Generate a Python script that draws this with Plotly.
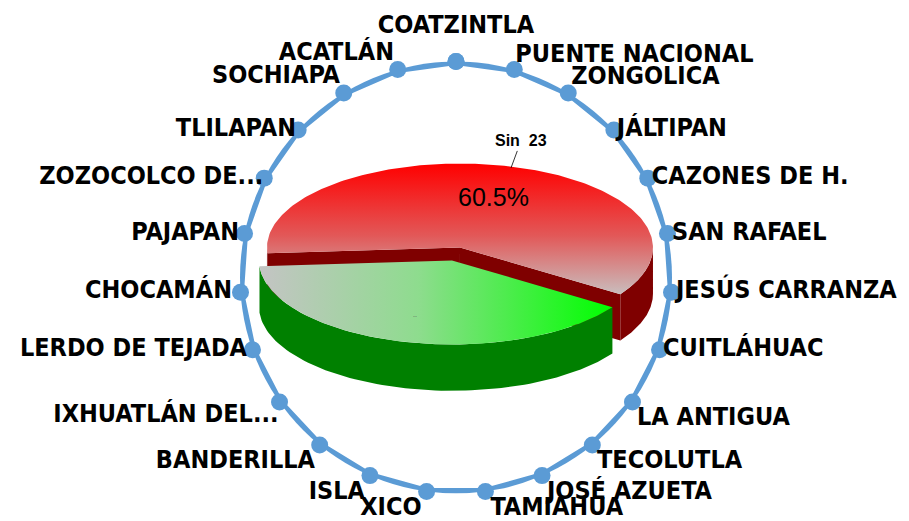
import numpy as np
import plotly.graph_objects as go

# ---------------- data ----------------
municipios = ["COATZINTLA", "PUENTE NACIONAL", "ZONGOLICA", "JÁLTIPAN", "CAZONES DE H.",
              "SAN RAFAEL", "JESÚS CARRANZA", "CUITLÁHUAC", "LA ANTIGUA", "TECOLUTLA",
              "JOSÉ AZUETA", "TAMIAHUA", "XICO", "ISLA", "BANDERILLA", "IXHUATLÁN DEL...",
              "LERDO DE TEJADA", "CHOCAMÁN", "PAJAPAN", "ZOZOCOLCO DE...", "TLILAPAN",
              "SOCHIAPA", "ACATLÁN"]
valores = [1, 1, 1, 1, 1, 1, 1, 1, 1, 1, 1, 1, 1, 1, 1, 1, 1, 1, 1, 1, 1, 1, 1]

pie_labels = ["Sin 23", ""]
pie_values = [60.5, 39.5]

# ---------------- style ----------------
BLUE = "#5B9BD5"
FS = 25
LABEL_FONT = dict(family="DejaVu Sans Condensed, Liberation Sans Narrow, Arial Narrow, DejaVu Sans, sans-serif",
                  size=FS, color="black", weight="bold")
# label placement around the radar (one per category)
label_pos = ["top center", "top right", "top right", "middle right", "middle right",
             "middle right", "middle right", "middle right", "bottom right", "bottom right",
             "bottom right", "bottom right", "bottom left", "bottom left", "bottom left",
             "bottom left", "middle left", "middle left", "middle left", "middle left",
             "middle left", "top left", "top left"]
label_gap = [22, 1, 3, 3, 4, 4.5, 4.5, 3.5, 4.5, 4.7, 4.9, 5, 5, 4.9, 4.7,
             0, 5.5, 8.5, 5.5, 0, 2.1, 3.8, 3.7]

W, H = 909, 521
PX = 193.0            # pixels per pie unit
PIE_CX, PIE_CY = 456, 254
TILT = 0.435
DEPTH = 0.24
EXPLODE = 0.08
START = 266.0
top_scales = [
    dict(type="vertical", colorscale=[[0, "#C9BDBD"], [0.45, "#E25858"], [1, "#FF0000"]]),
    dict(type="horizontal", colorscale=[[0, "#C4C4C4"], [0.45, "#8EDC8E"], [1, "#00FF00"]]),
]
wall_colors = ["#7F0000", "#008000"]

fig = go.Figure()

# ---------------- radar ----------------
fig.add_trace(go.Scatterpolar(
    r=valores + valores[:1], theta=municipios + municipios[:1], mode="lines+markers",
    line=dict(color=BLUE, width=7), marker=dict(color=BLUE, size=17),
    hoverinfo="skip", subplot="polar"))
# labels: invisible markers whose size sets the label offset
fig.add_trace(go.Scatterpolar(
    r=valores, theta=municipios, mode="markers+text", text=municipios,
    textposition=label_pos, textfont=LABEL_FONT,
    marker=dict(color=BLUE, opacity=0, size=[max((g - 1) / 0.625, 0.01) for g in label_gap]),
    subplot="polar", cliponaxis=False, hoverinfo="skip"))

# ---------------- 3D pie ----------------
def ell(cx, cy, t, dz=0.0):
    t = np.radians(t)
    return cx + np.sin(t), cy + TILT * np.cos(t) - dz

tot = sum(pie_values)
spans = []
a0 = START
for v in pie_values:
    a1 = a0 + v / tot * 360.0
    spans.append((a0, a1))
    a0 = a1

for k, (a0, a1) in enumerate(spans):
    mid = np.radians((a0 + a1) / 2)
    cx = EXPLODE * np.sin(mid)
    cy = EXPLODE * TILT * np.cos(mid)
    wc = wall_colors[k]
    # visible cut faces
    for phi, sgn in ((a0, -1), (a1, 1)):
        if sgn * np.sin(np.radians(phi)) > 0:
            ex, ey = ell(cx, cy, phi)
            xs = [cx, ex, ex, cx, cx]
            ys = [cy, ey, ey - DEPTH, cy - DEPTH, cy]
            fig.add_trace(go.Scatter(x=xs, y=ys, fill="toself", fillcolor=wc, mode="lines",
                                     line=dict(width=0), hoverinfo="skip"))
    # outer wall (front half only)
    for lo, hi in ((90, 270), (450, 630)):
        s, e = max(a0, lo), min(a1, hi)
        if e > s:
            tt = np.linspace(s, e, 80)
            xt, yt = ell(cx, cy, tt)
            xb, yb = ell(cx, cy, tt[::-1], DEPTH)
            xs = np.concatenate([xt, xb, xt[:1]])
            ys = np.concatenate([yt, yb, yt[:1]])
            fig.add_trace(go.Scatter(x=xs, y=ys, fill="toself", fillcolor=wc, mode="lines",
                                     line=dict(width=0), hoverinfo="skip"))
    # top face
    tt = np.linspace(a0, a1, 200)
    xt, yt = ell(cx, cy, tt)
    xs = np.concatenate([[cx], xt, [cx]])
    ys = np.concatenate([[cy], yt, [cy]])
    fig.add_trace(go.Scatter(x=xs, y=ys, fill="toself", fillgradient=top_scales[k], mode="lines",
                             line=dict(width=0), hoverinfo="skip"))

# pie labels
fig.add_annotation(x=0.192, y=0.295, xref="x", yref="y", text=f"{pie_values[0]:.1f}%",
                   showarrow=False, font=dict(family="Liberation Sans, Arial", size=25, color="black"))
fig.add_annotation(x=0.285, y=0.446, xref="x", yref="y", text=pie_labels[0].replace(" ", "  "),
                   showarrow=True, arrowhead=0, arrowwidth=0.8, arrowcolor="black", ax=10, ay=-27,
                   font=dict(family="Liberation Sans, Arial", size=16, color="black", weight="bold"))
fig.add_annotation(x=-0.213, y=-0.316, xref="x", yref="y", text="..", showarrow=False,
                   font=dict(family="Liberation Sans, Arial", size=7, color="#555555"))

# ---------------- layout ----------------
R = 216
PCX, PCY = 456, 277.5
fig.update_layout(
    width=W, height=H, margin=dict(l=0, r=0, t=0, b=0),
    paper_bgcolor="white", plot_bgcolor="rgba(0,0,0,0)", showlegend=False,
    xaxis=dict(range=[-PIE_CX / PX, (W - PIE_CX) / PX], visible=False, domain=[0, 1], fixedrange=True),
    yaxis=dict(range=[-(H - PIE_CY) / PX, PIE_CY / PX], visible=False, domain=[0, 1], fixedrange=True),
    polar=dict(
        domain=dict(x=[(PCX - R) / W, (PCX + R) / W], y=[(H - PCY - R) / H, (H - PCY + R) / H]),
        bgcolor="rgba(0,0,0,0)",
        angularaxis=dict(rotation=90, direction="clockwise", showline=False, showgrid=False,
                         showticklabels=False, ticks=""),
        radialaxis=dict(visible=False, range=[0, 1]),
    ),
)

fig.write_html("out.html", config={"displayModeBar": False},
               post_script="document.body.style.margin='0px';")
